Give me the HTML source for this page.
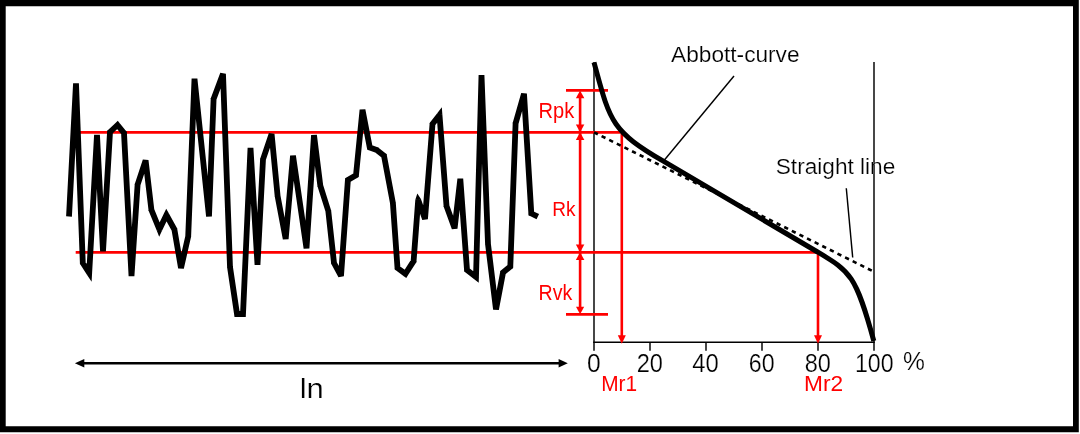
<!DOCTYPE html>
<html><head><meta charset="utf-8">
<style>
html,body{margin:0;padding:0;background:#fff;width:1080px;height:434px;overflow:hidden;}
svg{display:block;}
text{font-family:"Liberation Sans",sans-serif;}
</style></head>
<body>
<svg width="1080" height="434" viewBox="0 0 1080 434">
<rect x="0" y="0" width="1080" height="434" fill="#fff"/>
<!-- border -->
<path d="M0 0H1078.8V432.3H0Z M5.7 6.2V426.3H1073V6.2Z" fill="#000" fill-rule="evenodd"/>

<!-- axes -->
<g stroke="#000" stroke-width="1.45" fill="none">
  <line x1="594" y1="62" x2="594" y2="350.8"/>
  <line x1="874" y1="62" x2="874" y2="350.8"/>
  <line x1="593.2" y1="342.3" x2="874.8" y2="342.3"/>
  <line x1="650" y1="342.3" x2="650" y2="350.8"/>
  <line x1="706" y1="342.3" x2="706" y2="350.8"/>
  <line x1="762" y1="342.3" x2="762" y2="350.8"/>
  <line x1="818" y1="342.3" x2="818" y2="350.8"/>
  <line x1="734" y1="76" x2="664" y2="160.5"/>
  <line x1="846.3" y1="188.3" x2="852.7" y2="257.5"/>
</g>

<!-- red horizontal lines -->
<g stroke="#f00" stroke-width="2.8" fill="none">
  <line x1="75.7" y1="132.3" x2="620.5" y2="132.3"/>
  <line x1="75.7" y1="252.3" x2="818" y2="252.3"/>
  <line x1="566" y1="90.4" x2="608" y2="90.4"/>
  <line x1="566" y1="314.3" x2="608" y2="314.3"/>
</g>
<g stroke="#f00" stroke-width="2.6" fill="none">
  <line x1="580.1" y1="96" x2="580.1" y2="308"/>
  <line x1="621.8" y1="132.3" x2="621.8" y2="337"/>
  <line x1="818" y1="252.3" x2="818" y2="337"/>
</g>
<g fill="#f00">
  <path d="M580.1 90.4L575.85 98.2H584.35Z"/>
  <path d="M580.1 132.3L575.85 124.6H584.35Z"/>
  <path d="M580.1 132.3L575.85 140.0H584.35Z"/>
  <path d="M580.1 252.3L575.85 244.6H584.35Z"/>
  <path d="M580.1 252.3L575.85 260.0H584.35Z"/>
  <path d="M580.1 314.3L576.0 306.8H584.2Z"/>
  <path d="M621.8 343.8L617.8 335.2H625.8Z"/>
  <path d="M818 343.8L814.0 335.2H822.0Z"/>
</g>

<!-- dashed straight line -->
<line x1="594" y1="132.3" x2="873.5" y2="271.5" stroke="#000" stroke-width="2.6" stroke-dasharray="4.3 4.2"/>

<!-- Abbott curve -->
<path d="M594 62.3 C609.9 121 610.5 130.5 663.8 161.4 L815.9 251 C850 271.5 855.6 273.7 873.8 341" fill="none" stroke="#000" stroke-width="5"/>

<!-- profile -->
<polyline fill="none" stroke="#000" stroke-width="5.8" stroke-linejoin="bevel" points="69,216.5 76,83.3 82.8,263 89.2,272.8 97,135 103,251.3 110,132 117.5,125 124,133 131.5,276 137.6,184.6 145.6,160.4 151.4,209.9 159.4,229.5 166.4,215 174.4,229.5 181,268 188.2,236.4 194.5,78.7 209,216.5 213.6,99 223,73.8 230,267 237,314 243,314 250.5,148 257.5,264.8 263,159.4 271.6,134 277.6,196 285.7,239 293,155.7 306.5,248.3 314,135.2 320.3,185.7 328.3,211 334,263 341,276 347.9,180 356,175.3 362.5,109.8 369.8,147.6 376.7,149.9 384,155.7 392.9,203 397.5,268 405.5,273.8 413.6,261.1 418.2,200 425,219 432.5,124 439.5,115 446.5,206 454.6,228.3 460.3,178.8 467,270 476,277 481.5,75.2 488,244 496,309.5 503,272.6 510.3,266.6 515.6,123.4 524,93.8 531.3,213.5 537.8,216.6"/>
<path fill="#000" d="M82.80 263.00L79.90 263.11L79.93 263.91L80.37 264.59ZM89.20 272.80L86.77 274.39L91.60 281.77L92.10 272.96ZM110.00 132.00L107.10 131.83L107.17 130.67L108.02 129.88ZM117.50 125.00L115.52 122.88L117.79 120.76L119.75 123.17ZM124.00 133.00L126.25 131.17L126.85 131.90L126.90 132.85ZM137.60 184.60L134.71 184.41L134.73 184.04L134.85 183.69ZM151.40 209.90L148.52 210.24L148.57 210.63L148.72 211.00ZM159.40 229.50L156.72 230.60L159.18 236.63L162.01 230.76ZM166.40 215.00L163.79 213.74L166.23 208.69L168.94 213.60ZM174.40 229.50L176.94 228.10L177.18 228.53L177.26 229.01ZM188.20 236.40L191.03 237.04L191.09 236.78L191.10 236.52ZM213.60 99.00L210.70 98.89L210.72 98.42L210.88 97.99ZM230.00 267.00L227.10 267.11L227.11 267.27L227.13 267.43ZM237.00 314.00L234.13 314.43L234.50 316.90L237.00 316.90ZM243.00 314.00L243.00 316.90L245.77 316.90L245.90 314.13ZM263.00 159.40L260.10 159.25L260.12 158.85L260.25 158.47ZM277.60 196.00L274.71 196.28L274.73 196.41L274.75 196.54ZM320.30 185.70L317.42 186.06L317.46 186.32L317.53 186.57ZM328.30 211.00L331.07 210.13L331.15 210.40L331.18 210.68ZM334.00 263.00L331.12 263.32L331.18 263.88L331.45 264.37ZM347.90 180.00L345.01 179.79L345.12 178.26L346.44 177.49ZM356.00 175.30L357.46 177.81L358.74 177.06L358.89 175.59ZM369.80 147.60L366.95 148.15L367.27 149.81L368.88 150.35ZM376.70 149.90L377.62 147.15L378.10 147.31L378.50 147.63ZM384.00 155.70L385.80 153.43L386.65 154.10L386.85 155.16ZM392.90 203.00L395.75 202.46L395.78 202.63L395.79 202.80ZM397.50 268.00L394.61 268.20L394.70 269.55L395.80 270.35ZM405.50 273.80L403.80 276.15L406.29 277.95L407.95 275.36ZM413.60 261.10L416.05 262.66L416.44 262.04L416.49 261.32ZM418.20 200.00L415.31 199.78L417.31 193.39L420.93 199.02ZM432.50 124.00L429.61 123.77L429.68 122.91L430.21 122.22ZM439.50 115.00L437.21 113.22L441.82 107.30L442.39 114.78ZM446.50 206.00L443.61 206.22L443.64 206.62L443.77 206.99ZM467.00 270.00L464.11 270.21L464.20 271.50L465.22 272.29ZM476.00 277.00L474.22 279.29L478.74 282.81L478.90 277.08ZM488.00 244.00L485.10 244.11L485.11 244.23L485.12 244.35ZM503.00 272.60L500.15 272.06L500.35 271.03L501.16 270.36ZM510.30 266.60L512.14 268.84L513.15 268.01L513.20 266.71ZM515.60 123.40L512.70 123.29L512.71 122.94L512.81 122.61ZM531.30 213.50L528.41 213.68L528.51 215.38L530.05 216.12Z"/>

<!-- ln arrow -->
<line x1="80" y1="363.2" x2="562" y2="363.2" stroke="#000" stroke-width="2.5"/>
<path d="M74.9 363.2L84.3 358.9V367.5Z" fill="#000"/>
<path d="M567.8 363.2L558.6 358.9V367.5Z" fill="#000"/>

<!-- texts -->
<g font-size="40" font-family="Liberation Sans" stroke="#fff" stroke-width="0.35" style="will-change:transform">
<text transform="matrix(0.5667 0 0 0.5333 614.43 -1.90)" x="100" y="120" fill="#000">Abbott-curve</text>
<text transform="matrix(0.5663 0 0 0.5395 719.13 109.55)" x="100" y="120" fill="#000">Straight line</text>
<text transform="matrix(0.6158 0 0 0.6250 525.49 296.70)" x="100" y="120" fill="#000">0</text>
<text transform="matrix(0.5902 0 0 0.6250 577.70 296.70)" x="100" y="120" fill="#000">20</text>
<text transform="matrix(0.5952 0 0 0.6250 632.78 296.70)" x="100" y="120" fill="#000">40</text>
<text transform="matrix(0.5793 0 0 0.6250 690.91 296.70)" x="100" y="120" fill="#000">60</text>
<text transform="matrix(0.5878 0 0 0.6250 746.04 296.70)" x="100" y="120" fill="#000">80</text>
<text transform="matrix(0.5790 0 0 0.6250 797.06 296.70)" x="100" y="120" fill="#000">100</text>
<text transform="matrix(0.6152 0 0 0.6357 841.57 293.71)" x="100" y="120" fill="#000">%</text>
<text transform="matrix(0.5029 0 0 0.5418 488.20 52.78)" x="100" y="120" fill="#f00" stroke="none">Rpk</text>
<text transform="matrix(0.4761 0 0 0.5267 504.76 152.80)" x="100" y="120" fill="#f00" stroke="none">Rk</text>
<text transform="matrix(0.4894 0 0 0.5400 489.59 235.50)" x="100" y="120" fill="#f00" stroke="none">Rvk</text>
<text transform="matrix(0.5219 0 0 0.5500 549.05 325.20)" x="100" y="120" fill="#f00" stroke="none">Mr1</text>
<text transform="matrix(0.5672 0 0 0.5500 747.38 325.20)" x="100" y="120" fill="#f00" stroke="none">Mr2</text>
<text transform="matrix(0.7769 0 0 0.7000 221.98 314.00)" x="100" y="120" fill="#000">ln</text>
</g>
</svg>
</body></html>
